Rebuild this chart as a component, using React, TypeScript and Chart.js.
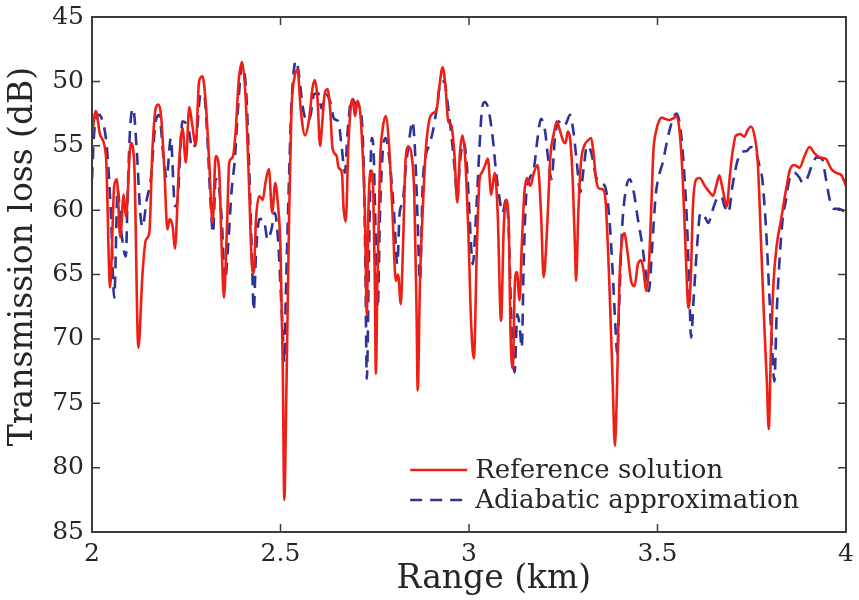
import React, { useEffect, useRef } from "react";
import { Chart, registerables } from "chart.js";

Chart.register(...registerables);

const xTicks = [2, 2.5, 3, 3.5, 4];
const yTicks = [45, 50, 55, 60, 65, 70, 75, 80, 85];
const seriesNames = ["Reference solution", "Adiabatic approximation"];
const xTitle = "Range (km)";
const yTitle = "Transmission loss (dB)";

const refRange = [
  2.0, 2.01, 2.022, 2.037, 2.048, 2.059, 2.066, 2.075, 2.084, 2.09, 2.103, 2.112, 2.123, 2.134, 2.143, 2.152, 2.16, 2.169, 2.176, 2.183,
  2.192, 2.2, 2.206, 2.214, 2.22, 2.231, 2.24, 2.249, 2.258, 2.266, 2.275, 2.284, 2.293, 2.302, 2.311, 2.32, 2.328, 2.337, 2.344, 2.35,
  2.358, 2.364, 2.373, 2.381, 2.389, 2.398, 2.407, 2.416, 2.424, 2.429, 2.435, 2.444, 2.453, 2.46, 2.469, 2.478, 2.486, 2.493, 2.5, 2.506,
  2.51, 2.516, 2.523, 2.529, 2.537, 2.545, 2.554, 2.565, 2.576, 2.585, 2.591, 2.598, 2.605, 2.611, 2.617, 2.625, 2.632, 2.638, 2.649, 2.654,
  2.663, 2.667, 2.673, 2.68, 2.687, 2.691, 2.698, 2.704, 2.711, 2.717, 2.724, 2.729, 2.733, 2.74, 2.746, 2.75, 2.753, 2.757, 2.764, 2.771,
  2.779, 2.788, 2.797, 2.806, 2.812, 2.819, 2.825, 2.832, 2.839, 2.848, 2.855, 2.861, 2.864, 2.87, 2.877, 2.885, 2.894, 2.903, 2.914, 2.921,
  2.93, 2.937, 2.945, 2.953, 2.961, 2.969, 2.976, 2.983, 2.99, 2.998, 3.006, 3.013, 3.021, 3.028, 3.034, 3.043, 3.05, 3.059, 3.068, 3.076,
  3.085, 3.092, 3.098, 3.105, 3.11, 3.116, 3.122, 3.127, 3.134, 3.14, 3.147, 3.154, 3.163, 3.172, 3.182, 3.191, 3.198, 3.207, 3.216, 3.224,
  3.233, 3.242, 3.251, 3.256, 3.262, 3.268, 3.275, 3.281, 3.284, 3.29, 3.297, 3.306, 3.315, 3.324, 3.33, 3.337, 3.344, 3.355, 3.362, 3.372,
  3.381, 3.387, 3.393, 3.399, 3.406, 3.412, 3.421, 3.43, 3.439, 3.448, 3.457, 3.463, 3.47, 3.477, 3.483, 3.489, 3.496, 3.505, 3.512, 3.519,
  3.532, 3.541, 3.55, 3.558, 3.567, 3.576, 3.582, 3.588, 3.594, 3.603, 3.612, 3.625, 3.638, 3.647, 3.656, 3.664, 3.673, 3.684, 3.691, 3.699,
  3.708, 3.72, 3.73, 3.739, 3.748, 3.757, 3.766, 3.775, 3.784, 3.79, 3.795, 3.801, 3.808, 3.816, 3.828, 3.841, 3.852, 3.863, 3.877, 3.89,
  3.903, 3.917, 3.93, 3.946, 3.961, 3.974, 3.988, 4.0,
];
const refLoss = [
  54.2, 52.3, 54.2, 55.8, 66.0, 58.1, 57.6, 62.1, 58.8, 60.5, 54.8, 56.3, 70.7, 64.9, 62.3, 61.8, 55.5, 52.1, 51.8, 52.6,
  56.9, 61.5, 60.7, 61.3, 63.0, 56.3, 53.6, 56.3, 52.0, 53.4, 55.0, 50.0, 49.6, 51.8, 56.3, 61.0, 55.8, 56.8, 62.9, 66.8,
  61.3, 56.3, 55.9, 53.9, 50.0, 48.5, 51.0, 57.6, 64.2, 64.9, 60.7, 58.9, 59.2, 57.9, 56.8, 60.2, 57.9, 59.5, 63.0, 72.0,
  82.5, 73.3, 60.2, 52.3, 49.7, 49.1, 52.3, 54.2, 52.9, 50.5, 49.9, 51.3, 55.0, 53.1, 51.0, 50.6, 52.3, 55.2, 55.8, 56.7,
  57.1, 59.7, 60.9, 55.0, 51.8, 51.4, 52.7, 51.5, 52.3, 55.0, 60.2, 68.1, 60.2, 56.9, 58.5, 65.0, 72.7, 65.5, 56.3, 53.7,
  52.7, 55.0, 60.2, 65.5, 65.0, 67.3, 62.8, 56.0, 55.1, 55.8, 58.9, 68.1, 74.0, 65.5, 60.2, 55.5, 53.1, 52.5, 52.2, 50.5,
  48.9, 50.2, 53.1, 53.4, 55.5, 59.4, 55.5, 54.2, 56.0, 61.5, 69.0, 71.5, 62.8, 57.6, 57.1, 56.5, 56.0, 58.8, 57.1, 60.2,
  68.6, 61.5, 59.2, 60.7, 69.4, 72.3, 65.5, 64.8, 67.0, 62.8, 58.6, 57.5, 58.1, 57.1, 56.5, 60.2, 65.2, 61.5, 55.8, 54.2,
  53.1, 53.9, 54.7, 54.8, 53.9, 54.4, 57.6, 62.8, 65.5, 60.2, 56.3, 55.0, 54.6, 54.4, 55.5, 57.6, 58.3, 58.4, 59.2, 65.5,
  73.3, 78.3, 73.3, 65.5, 62.3, 61.8, 63.4, 65.5, 65.9, 64.2, 63.9, 64.7, 66.3, 64.4, 60.2, 55.5, 53.9, 53.0, 52.8, 52.9,
  53.0, 52.9, 52.7, 53.7, 57.6, 64.2, 67.6, 65.5, 59.7, 57.6, 57.5, 58.1, 58.6, 58.9, 58.1, 57.3, 58.4, 59.7, 57.6, 55.5,
  54.2, 54.1, 54.3, 53.8, 53.5, 54.2, 56.3, 62.8, 69.4, 73.3, 77.0, 70.7, 65.5, 62.8, 60.7, 58.4, 56.8, 56.5, 56.7, 55.8,
  55.1, 55.6, 55.9, 56.0, 56.8, 57.1, 57.3, 58.1,
];

const adiRange = [
  2.0, 2.006, 2.019, 2.028, 2.039, 2.05, 2.059, 2.068, 2.077, 2.09, 2.094, 2.101, 2.109, 2.119, 2.128, 2.134, 2.145, 2.156, 2.169, 2.178,
  2.19, 2.198, 2.209, 2.22, 2.227, 2.24, 2.256, 2.266, 2.277, 2.288, 2.297, 2.306, 2.315, 2.321, 2.328, 2.335, 2.344, 2.353, 2.361, 2.37,
  2.379, 2.388, 2.398, 2.409, 2.418, 2.424, 2.429, 2.435, 2.444, 2.455, 2.466, 2.476, 2.485, 2.494, 2.5, 2.506, 2.51, 2.514, 2.523, 2.529,
  2.541, 2.55, 2.558, 2.57, 2.58, 2.589, 2.6, 2.609, 2.62, 2.632, 2.642, 2.653, 2.662, 2.671, 2.678, 2.689, 2.7, 2.711, 2.72, 2.725,
  2.729, 2.735, 2.742, 2.747, 2.751, 2.758, 2.764, 2.771, 2.779, 2.79, 2.801, 2.81, 2.816, 2.824, 2.832, 2.843, 2.85, 2.857, 2.863, 2.87,
  2.877, 2.885, 2.894, 2.904, 2.916, 2.925, 2.934, 2.943, 2.954, 2.963, 2.969, 2.976, 2.985, 2.993, 3.0, 3.006, 3.01, 3.019, 3.028, 3.034,
  3.041, 3.051, 3.063, 3.072, 3.08, 3.089, 3.098, 3.105, 3.112, 3.121, 3.128, 3.134, 3.14, 3.145, 3.151, 3.16, 3.172, 3.182, 3.191, 3.202,
  3.211, 3.219, 3.228, 3.237, 3.248, 3.257, 3.268, 3.277, 3.286, 3.295, 3.304, 3.313, 3.324, 3.336, 3.346, 3.36, 3.371, 3.38, 3.389, 3.393,
  3.399, 3.406, 3.415, 3.426, 3.437, 3.448, 3.46, 3.469, 3.477, 3.486, 3.495, 3.505, 3.514, 3.527, 3.541, 3.55, 3.561, 3.572, 3.579, 3.585,
  3.589, 3.596, 3.605, 3.614, 3.625, 3.635, 3.644, 3.656, 3.669, 3.678, 3.688, 3.699, 3.711, 3.723, 3.737, 3.748, 3.761, 3.77, 3.778, 3.788,
  3.797, 3.804, 3.81, 3.816, 3.823, 3.832, 3.841, 3.85, 3.863, 3.877, 3.885, 3.896, 3.91, 3.922, 3.936, 3.947, 3.957, 3.969, 3.982, 4.0,
];
const adiLoss = [
  57.6, 53.9, 52.6, 53.1, 55.0, 60.2, 66.8, 58.4, 61.5, 63.6, 59.4, 53.7, 52.1, 55.5, 60.2, 61.3, 59.2, 57.6, 53.1, 52.6,
  56.0, 57.5, 54.4, 59.7, 59.2, 53.1, 53.7, 55.2, 54.4, 51.0, 51.0, 54.4, 59.7, 61.8, 57.6, 57.9, 60.7, 65.5, 62.8, 58.6,
  56.0, 51.8, 48.7, 50.8, 57.6, 63.4, 67.8, 63.4, 60.7, 60.7, 62.3, 61.5, 60.2, 62.5, 66.0, 69.4, 71.8, 66.8, 57.1, 51.8,
  48.4, 49.7, 51.8, 53.1, 52.6, 51.0, 50.9, 52.1, 51.0, 51.6, 52.9, 53.1, 55.0, 57.1, 53.9, 51.3, 51.8, 52.1, 55.8, 64.0,
  73.1, 62.8, 54.4, 55.5, 60.2, 67.6, 60.2, 55.5, 54.4, 56.3, 60.2, 64.2, 60.2, 59.4, 56.8, 54.2, 53.1, 55.5, 60.2, 65.5,
  58.1, 55.8, 55.0, 53.9, 51.8, 50.0, 50.0, 51.6, 54.4, 57.1, 59.2, 56.3, 54.7, 56.0, 59.5, 63.0, 64.2, 60.2, 55.0, 52.3,
  51.6, 52.1, 54.4, 57.1, 58.9, 60.2, 59.2, 61.3, 68.1, 72.6, 68.1, 68.9, 70.7, 64.2, 59.2, 57.6, 56.8, 54.4, 52.9, 53.9,
  56.3, 57.6, 54.4, 53.1, 53.5, 53.3, 52.6, 53.9, 56.3, 58.6, 56.8, 55.0, 55.5, 57.3, 57.9, 58.1, 60.2, 64.2, 69.4, 71.2,
  66.8, 61.5, 58.6, 57.6, 58.6, 60.7, 62.8, 64.9, 66.3, 62.8, 58.9, 57.2, 56.3, 54.4, 52.9, 52.5, 53.7, 57.6, 61.5, 66.8,
  69.9, 66.8, 62.8, 60.2, 60.5, 61.0, 60.2, 59.2, 58.9, 59.7, 60.2, 58.1, 56.3, 55.5, 55.4, 55.1, 55.5, 56.5, 57.6, 61.5,
  66.8, 70.7, 73.3, 68.1, 64.2, 60.7, 59.2, 57.6, 57.1, 57.5, 57.9, 57.6, 56.5, 55.9, 56.0, 57.6, 59.2, 59.9, 59.9, 60.2,
];

const RED = "rgb(238,32,22)";
const BLUE = "rgb(46,52,150)";
const AXIS = "#3c3c3c";
const TEXT = "#262626";
const FONT = "'DejaVu Serif', serif";
const DASH = [12, 8];

const decorPlugin = {
  id: "decor",
  afterDraw(chart: any) {
    const { ctx, chartArea: a, scales } = chart;
    const xs = scales.x;
    const ys = scales.y;
    ctx.save();
    ctx.strokeStyle = AXIS;
    ctx.lineWidth = 2;
    ctx.strokeRect(a.left, a.top, a.right - a.left, a.bottom - a.top);
    const tl = 8;
    ctx.lineWidth = 1.5;
    ctx.beginPath();
    xTicks.forEach((v) => {
      const px = xs.getPixelForValue(v);
      ctx.moveTo(px, a.bottom);
      ctx.lineTo(px, a.bottom - tl);
      ctx.moveTo(px, a.top);
      ctx.lineTo(px, a.top + tl);
    });
    yTicks.forEach((v) => {
      const py = ys.getPixelForValue(v);
      ctx.moveTo(a.left, py);
      ctx.lineTo(a.left + tl, py);
      ctx.moveTo(a.right, py);
      ctx.lineTo(a.right - tl, py);
    });
    ctx.stroke();

    // axis titles
    ctx.fillStyle = TEXT;
    ctx.font = `33px ${FONT}`;
    ctx.textAlign = "center";
    ctx.textBaseline = "middle";
    ctx.fillText(xTitle, a.left + (a.right - a.left) * 0.533, 579);
    ctx.save();
    ctx.translate(23, a.top + (a.bottom - a.top) * 0.465);
    ctx.rotate(-Math.PI / 2);
    ctx.fillText(yTitle, 0, 0);
    ctx.restore();

    // legend
    const lx0 = a.left + (a.right - a.left) * 0.422;
    const lx1 = lx0 + 57;
    const rows = [a.bottom - 62, a.bottom - 32];
    const colors = [RED, BLUE];
    ctx.font = `26px ${FONT}`;
    ctx.textAlign = "left";
    rows.forEach((ry, i) => {
      ctx.strokeStyle = colors[i];
      ctx.lineWidth = 2.5;
      ctx.setLineDash(i === 1 ? DASH : []);
      ctx.beginPath();
      ctx.moveTo(lx0, ry);
      ctx.lineTo(lx1, ry);
      ctx.stroke();
      ctx.setLineDash([]);
      ctx.fillStyle = TEXT;
      ctx.fillText(seriesNames[i], lx1 + 8, ry + 1);
    });
    ctx.restore();
  },
};

export default function App() {
  const ref = useRef<HTMLCanvasElement | null>(null);
  useEffect(() => {
    document.body.style.margin = "0";
    const canvas = ref.current;
    if (!canvas) return;
    const chart = new Chart(canvas, {
      type: "line",
      data: {
        datasets: [
          {
            label: seriesNames[0],
            data: refRange.map((x, i) => ({ x, y: refLoss[i] })),
            borderColor: RED,
            borderWidth: 2.6,
            pointRadius: 0,
            cubicInterpolationMode: "monotone",
            fill: false,
          },
          {
            label: seriesNames[1],
            data: adiRange.map((x, i) => ({ x, y: adiLoss[i] })),
            borderColor: BLUE,
            borderWidth: 2.6,
            borderDash: DASH,
            pointRadius: 0,
            cubicInterpolationMode: "monotone",
            fill: false,
          },
        ],
      },
      options: {
        animation: false,
        responsive: false,
        parsing: false as any,
        layout: { padding: { top: 17, right: 13, left: 0, bottom: 0 } },
        plugins: { legend: { display: false }, tooltip: { enabled: false } },
        scales: {
          x: {
            type: "linear",
            min: 2,
            max: 4,
            afterBuildTicks: (s: any) => {
              s.ticks = xTicks.map((v) => ({ value: v }));
            },
            afterFit: (s: any) => {
              s.height = 68;
              s.paddingLeft = 0;
              s.paddingRight = 0;
            },
            grid: { display: false, drawTicks: false },
            border: { display: false },
            ticks: {
              font: { family: FONT, size: 25 },
              color: TEXT,
              padding: 7,
              maxRotation: 0,
              callback: (v: any) => String(v),
            },
          },
          y: {
            type: "linear",
            reverse: true,
            min: 45,
            max: 85,
            afterBuildTicks: (s: any) => {
              s.ticks = yTicks.map((v) => ({ value: v }));
            },
            afterFit: (s: any) => {
              s.width = 92;
              s.paddingTop = 0;
              s.paddingBottom = 0;
            },
            grid: { display: false, drawTicks: false },
            border: { display: false },
            ticks: {
              font: { family: FONT, size: 25 },
              color: TEXT,
              padding: 8,
              callback: (v: any) => String(v),
            },
          },
        },
      },
      plugins: [decorPlugin],
    });
    return () => chart.destroy();
  }, []);
  return (
    <div style={{ position: "relative", width: 859, height: 600, background: "#fff" }}>
      <canvas ref={ref} width={859} height={600} />
    </div>
  );
}
